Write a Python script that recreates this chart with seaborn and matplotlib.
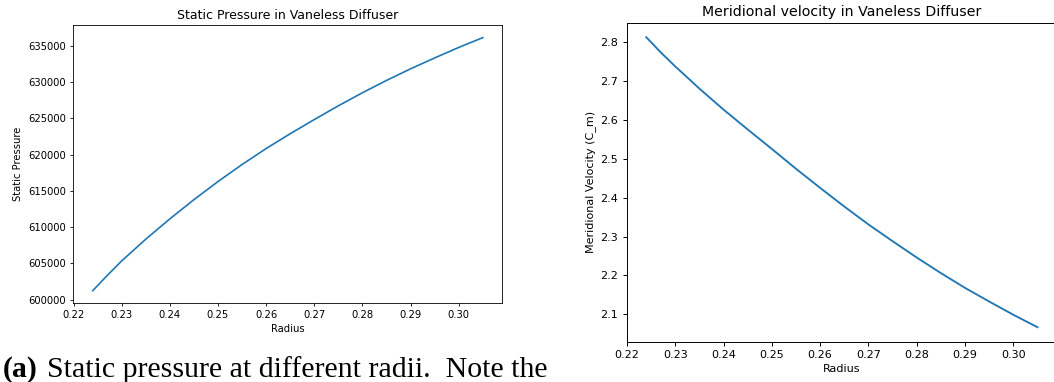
import matplotlib
matplotlib.use("Agg")
import matplotlib.pyplot as plt
import seaborn as sns
import pandas as pd

# Data
radius = [0.224, 0.227, 0.23, 0.235, 0.24, 0.245, 0.25, 0.255, 0.26, 0.265,
          0.27, 0.275, 0.28, 0.285, 0.29, 0.295, 0.30, 0.3025, 0.305]
static_pressure = [601250, 603350, 605350, 608350, 611150, 613800, 616300, 618650,
                   620850, 622900, 624850, 626750, 628550, 630250, 631850, 633350,
                   634800, 635480, 636150]
meridional_velocity = [2.812, 2.773, 2.737, 2.680, 2.626, 2.575, 2.525, 2.474,
                       2.425, 2.377, 2.331, 2.288, 2.246, 2.206, 2.168, 2.133,
                       2.099, 2.083, 2.067]

df = pd.DataFrame({"Radius": radius, "P": static_pressure, "Cm": meridional_velocity})

fig = plt.figure(figsize=(10.54, 3.82), dpi=100)
W, H = 1054, 382

def frac(l, r, t, b):
    return [l / W, 1 - b / H, (r - l) / W, (b - t) / H]

# Left plot
ax1 = fig.add_axes(frac(73.3, 502.3, 25, 303.3))
sns.lineplot(data=df, x="Radius", y="P", ax=ax1, color="#1f77b4", linewidth=1.2)
ax1.set_title("Static Pressure in Vaneless Diffuser", fontsize=9.0, pad=4)
ax1.set_xlabel("Radius", fontsize=7.2, labelpad=2.5)
ax1.set_ylabel("Static Pressure", fontsize=7.2, labelpad=4)
ax1.tick_params(labelsize=7.2, length=2.5, width=0.6, pad=2.5)
ax1.ticklabel_format(axis="y", useOffset=False, style="plain")
for s in ax1.spines.values():
    s.set_linewidth(0.6)

# Right plot
ax2 = fig.add_axes(frac(626.7, 1057, 22.7, 341.7))
sns.lineplot(data=df, x="Radius", y="Cm", ax=ax2, color="#1f77b4", linewidth=1.35)
ax2.set_title("Meridional velocity in Vaneless Diffuser", fontsize=10.2, pad=5)
ax2.set_xlabel("Radius", fontsize=8.0, labelpad=2.5)
ax2.set_ylabel("Meridional Velocity (C_m)", fontsize=8.0, labelpad=3.5)
ax2.tick_params(labelsize=8.0, length=3, width=0.7, pad=3)
for s in ax2.spines.values():
    s.set_linewidth(0.7)

# Caption (cut off at the bottom, as in the reference)
serif = ["Liberation Serif", "DejaVu Serif"]
fig.text(0.003, 0.013, "(a)", fontsize=21.5, fontweight="bold",
         family=serif, va="baseline")
fig.text(0.0446, 0.013, "Static pressure at different radii.  Note the", fontsize=21.5,
         family=serif, va="baseline")

fig.savefig("out.png", dpi=100)
